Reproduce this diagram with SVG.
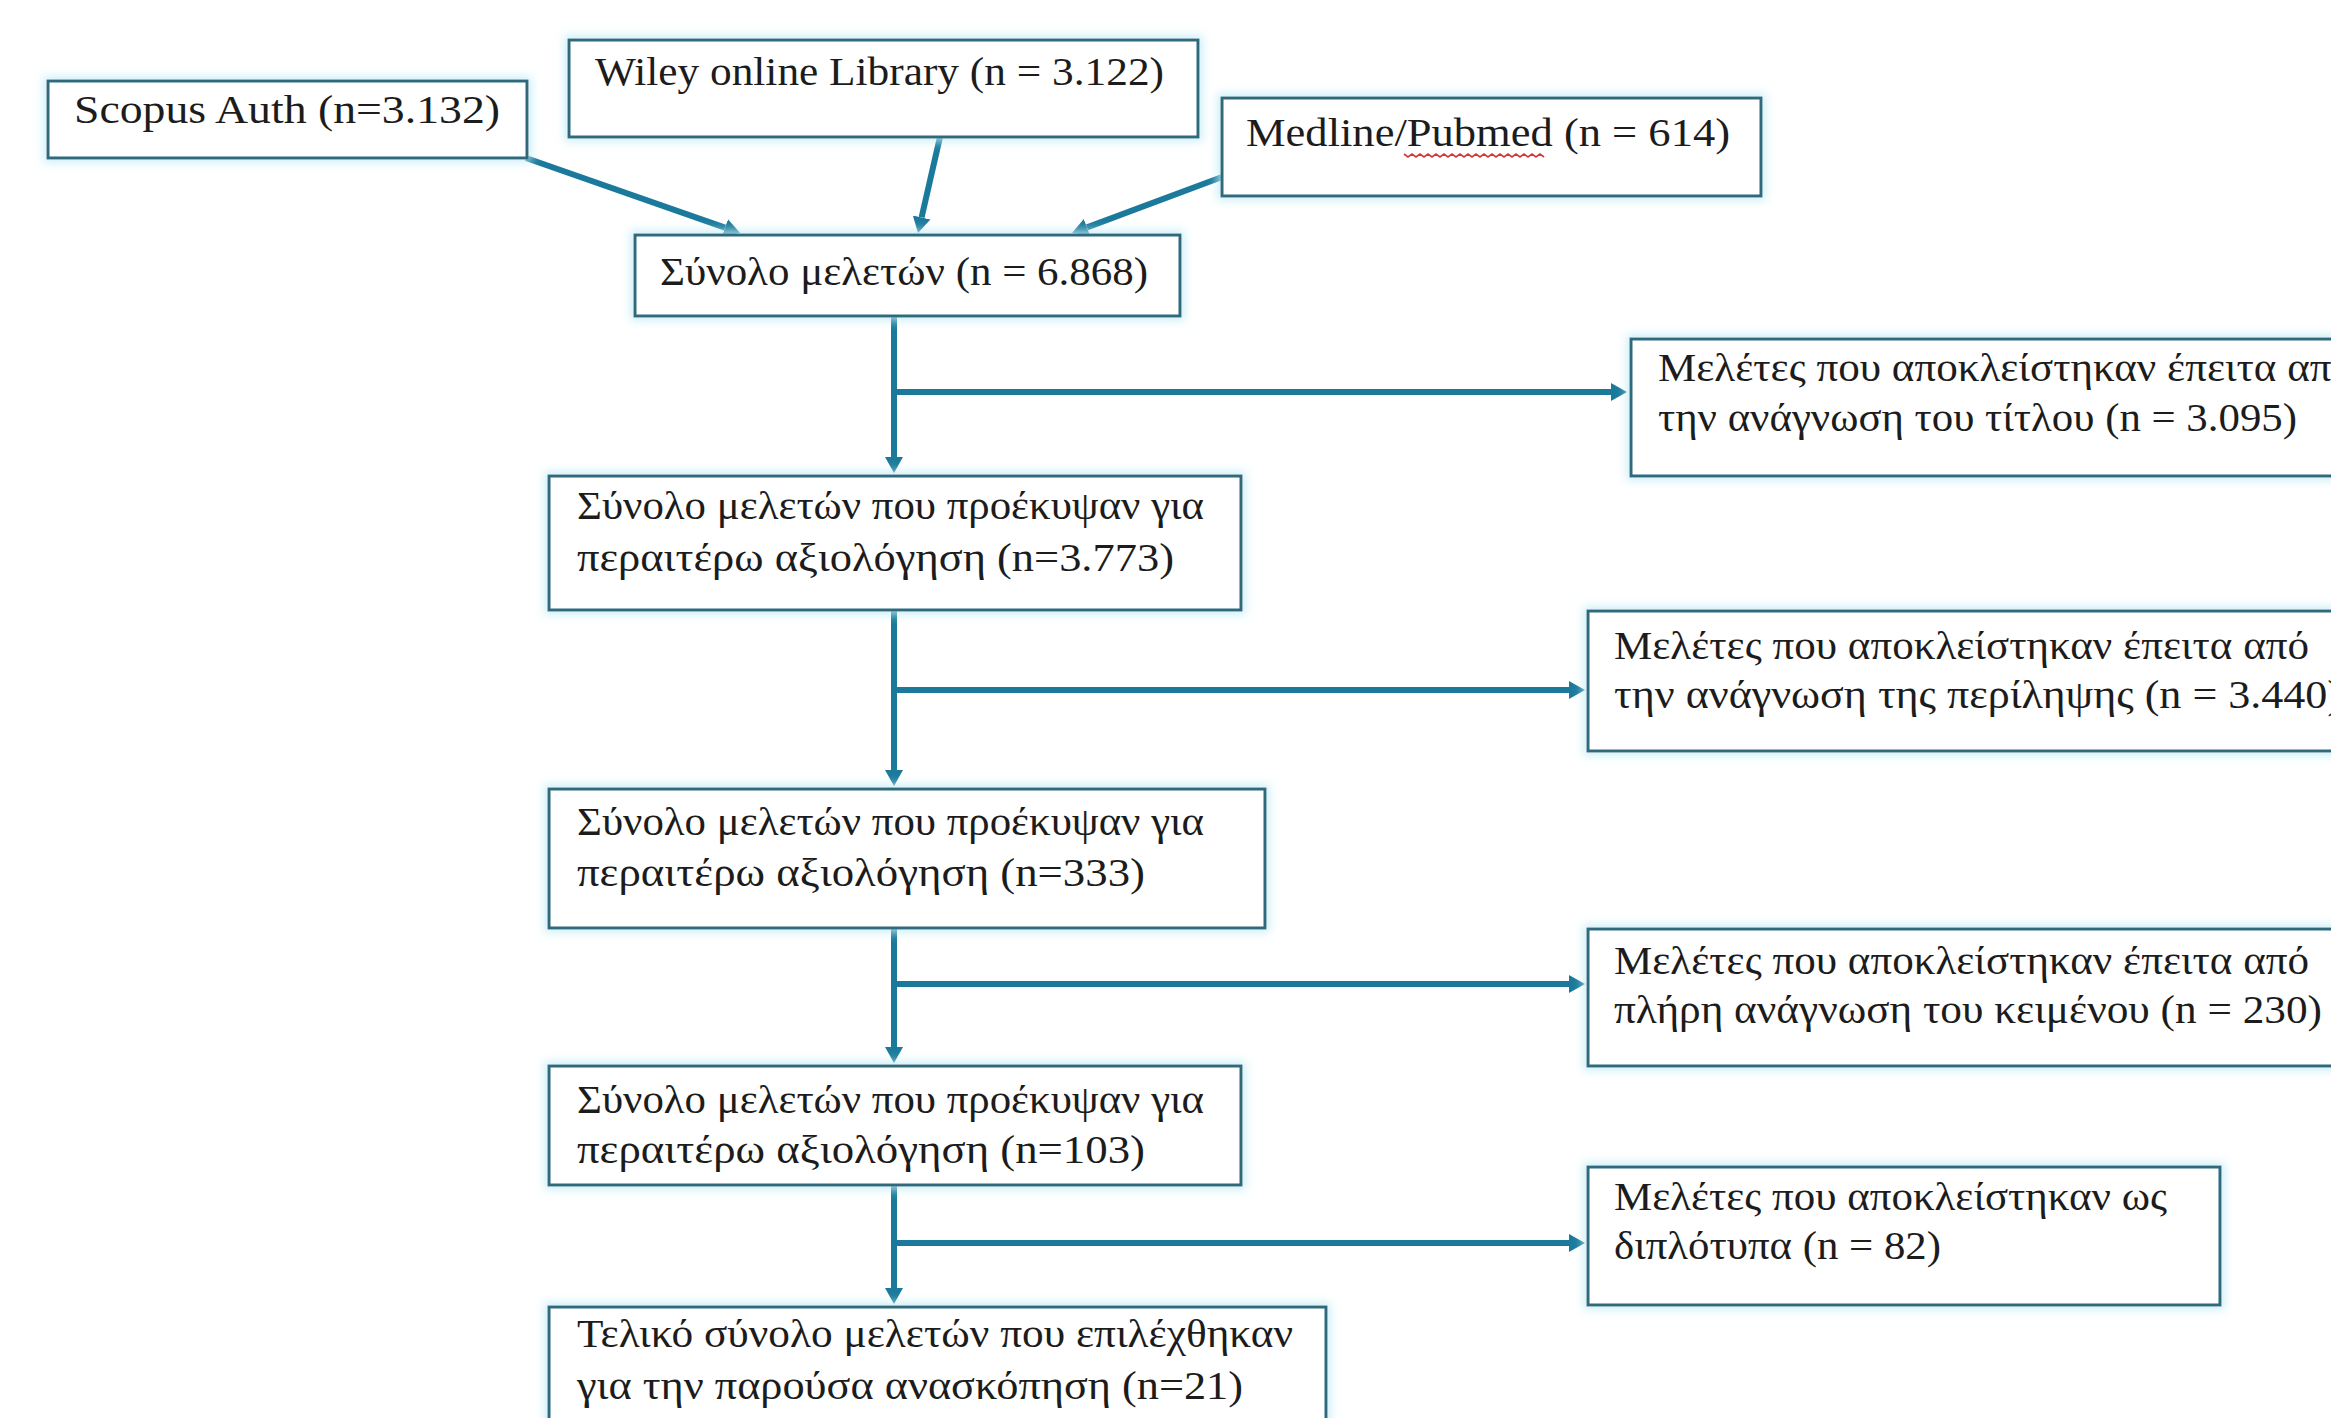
<svg xmlns="http://www.w3.org/2000/svg" width="2331" height="1418" viewBox="0 0 2331 1418">
<defs>
<style>
.box{fill:#ffffff;stroke:#2e6b7c;stroke-width:3;filter:url(#glow)}
.t{font-family:"Liberation Serif","DejaVu Serif",serif;font-size:40px;fill:#1c1c1c}
.c{stroke:#1b7a9b;stroke-width:6;fill:none;marker-end:url(#ah)}
.sq{stroke:#d23a3a;stroke-width:1.6;fill:none}
</style>
<filter id="glow" x="-5%" y="-25%" width="110%" height="150%">
<feMorphology in="SourceAlpha" operator="dilate" radius="3" result="d"/>
<feGaussianBlur in="d" stdDeviation="5" result="b"/>
<feFlood flood-color="#c4ecf6" flood-opacity="0.85"/>
<feComposite in2="b" operator="in" result="g"/>
<feMerge><feMergeNode in="g"/><feMergeNode in="SourceGraphic"/></feMerge>
</filter>
<marker id="ah" markerUnits="userSpaceOnUse" markerWidth="18" markerHeight="20" viewBox="0 -10 18 20" refX="0" refY="0" orient="auto">
<path d="M0,-9 L16,0 L0,9 z" fill="#1b7a9b"/>
</marker>
</defs>
<rect width="2331" height="1418" fill="#ffffff"/>

<g id="connectors">
<line class="c" x1="526" y1="158" x2="725" y2="227.7"/>
<line class="c" x1="940" y1="137" x2="921.6" y2="217.4"/>
<line class="c" x1="1222" y1="177" x2="1087" y2="227.4"/>
<line class="c" x1="894" y1="316" x2="894" y2="457"/>
<line class="c" x1="894" y1="392" x2="1611" y2="392"/>
<line class="c" x1="894" y1="610" x2="894" y2="770"/>
<line class="c" x1="894" y1="690" x2="1569" y2="690"/>
<line class="c" x1="894" y1="928" x2="894" y2="1047"/>
<line class="c" x1="894" y1="984" x2="1569" y2="984"/>
<line class="c" x1="894" y1="1185" x2="894" y2="1288"/>
<line class="c" x1="894" y1="1243" x2="1569" y2="1243"/>
</g>

<g id="scopus">
<rect class="box" x="48" y="81" width="479" height="77"/>
<text class="t" x="74" y="123" textLength="426" lengthAdjust="spacingAndGlyphs">Scopus Auth (n=3.132)</text>
</g>

<g id="wiley">
<rect class="box" x="569" y="40" width="629" height="97"/>
<text class="t" x="595" y="85" textLength="569" lengthAdjust="spacingAndGlyphs">Wiley online Library (n = 3.122)</text>
</g>

<g id="medline">
<rect class="box" x="1222" y="98" width="539" height="98"/>
<text class="t" x="1246" y="146" textLength="484" lengthAdjust="spacingAndGlyphs">Medline/Pubmed  (n = 614)</text>
<path class="sq" d="M1404,154 l4,3 l4,-3 l4,3 l4,-3 l4,3 l4,-3 l4,3 l4,-3 l4,3 l4,-3 l4,3 l4,-3 l4,3 l4,-3 l4,3 l4,-3 l4,3 l4,-3 l4,3 l4,-3 l4,3 l4,-3 l4,3 l4,-3 l4,3 l4,-3 l4,3 l4,-3 l4,3 l4,-3 l4,3 l4,-3 l4,3 l4,-3 l4,3"/>
</g>

<g id="total">
<rect class="box" x="635" y="235" width="545" height="81"/>
<text class="t" x="660" y="285" textLength="488" lengthAdjust="spacingAndGlyphs">Σύνολο μελετών (n = 6.868)</text>
</g>

<g id="excl-title">
<rect class="box" x="1631" y="339" width="760" height="137"/>
<text class="t" x="1658" y="381" textLength="695" lengthAdjust="spacingAndGlyphs">Μελέτες που αποκλείστηκαν έπειτα από</text>
<text class="t" x="1658" y="431" textLength="639" lengthAdjust="spacingAndGlyphs">την ανάγνωση του τίτλου (n = 3.095)</text>
</g>

<g id="step-3773">
<rect class="box" x="549" y="476" width="692" height="134"/>
<text class="t" x="577" y="519" textLength="627" lengthAdjust="spacingAndGlyphs">Σύνολο μελετών που προέκυψαν για</text>
<text class="t" x="577" y="571" textLength="597" lengthAdjust="spacingAndGlyphs">περαιτέρω αξιολόγηση (n=3.773)</text>
</g>

<g id="excl-abstract">
<rect class="box" x="1588" y="611" width="800" height="140"/>
<text class="t" x="1614" y="659" textLength="695" lengthAdjust="spacingAndGlyphs">Μελέτες που αποκλείστηκαν έπειτα από</text>
<text class="t" x="1614" y="708" textLength="728" lengthAdjust="spacingAndGlyphs">την ανάγνωση της περίληψης   (n = 3.440)</text>
</g>

<g id="step-333">
<rect class="box" x="549" y="789" width="716" height="139"/>
<text class="t" x="577" y="835" textLength="627" lengthAdjust="spacingAndGlyphs">Σύνολο μελετών που προέκυψαν για</text>
<text class="t" x="577" y="886" textLength="568" lengthAdjust="spacingAndGlyphs">περαιτέρω αξιολόγηση (n=333)</text>
</g>

<g id="excl-fulltext">
<rect class="box" x="1588" y="929" width="800" height="137"/>
<text class="t" x="1614" y="974" textLength="695" lengthAdjust="spacingAndGlyphs">Μελέτες που αποκλείστηκαν έπειτα από</text>
<text class="t" x="1614" y="1023" textLength="708" lengthAdjust="spacingAndGlyphs">πλήρη ανάγνωση του κειμένου (n = 230)</text>
</g>

<g id="step-103">
<rect class="box" x="549" y="1066" width="692" height="119"/>
<text class="t" x="577" y="1113" textLength="627" lengthAdjust="spacingAndGlyphs">Σύνολο μελετών που προέκυψαν για</text>
<text class="t" x="577" y="1163" textLength="568" lengthAdjust="spacingAndGlyphs">περαιτέρω αξιολόγηση (n=103)</text>
</g>

<g id="excl-duplicates">
<rect class="box" x="1588" y="1167" width="632" height="138"/>
<text class="t" x="1614" y="1210" textLength="553" lengthAdjust="spacingAndGlyphs">Μελέτες που αποκλείστηκαν ως</text>
<text class="t" x="1614" y="1259" textLength="327" lengthAdjust="spacingAndGlyphs">διπλότυπα (n = 82)</text>
</g>

<g id="final">
<rect class="box" x="549" y="1307" width="777" height="140"/>
<text class="t" x="577" y="1347" textLength="716" lengthAdjust="spacingAndGlyphs">Τελικό σύνολο μελετών που επιλέχθηκαν</text>
<text class="t" x="577" y="1399" textLength="666" lengthAdjust="spacingAndGlyphs">για την παρούσα ανασκόπηση (n=21)</text>
</g>
</svg>
